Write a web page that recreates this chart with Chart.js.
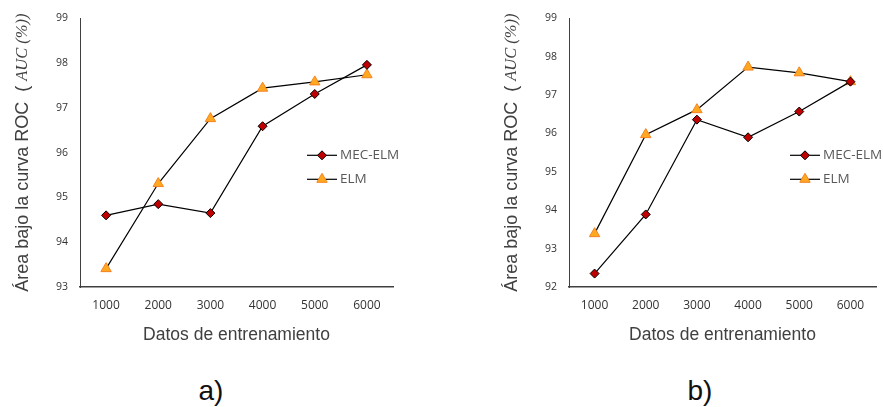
<!DOCTYPE html>
<html>
<head>
<meta charset="utf-8">
<script src="https://cdn.jsdelivr.net/npm/chart.js@4/dist/chart.umd.min.js"></script>
<style>
  body { margin: 0; background: #fff; width: 883px; height: 407px; position: relative; overflow: hidden; }
  .box { position: absolute; top: 0; height: 360px; }
  .lbl { position: absolute; font-family: "Liberation Sans", Arial, sans-serif; font-size: 28px; color: #111; transform: translate(-50%, -50%); }
</style>
</head>
<body>
<div class="box" style="left:0;width:440px"><canvas id="chartA"></canvas></div>
<div class="box" style="left:489px;width:394px"><canvas id="chartB"></canvas></div>
<div class="lbl" style="left:211px;top:391px">a)</div>
<div class="lbl" style="left:700px;top:391px">b)</div>
<script>
// data
var labels = ["1000", "2000", "3000", "4000", "5000", "6000"]
var mecA = [94.6, 94.85, 94.65, 96.59, 97.31, 97.96]
var elmA = [93.41, 95.31, 96.76, 97.44, 97.58, 97.74]
var mecB = [92.35, 93.89, 96.36, 95.9, 96.57, 97.35]
var elmB = [93.39, 95.97, 96.62, 97.73, 97.58, 97.35]
var yMinA = 93, yMinB = 92, yMax = 99

var tickFont = "'Open Sans', sans-serif"

// rotated y title with mixed fonts
var yTitle = {
  id: 'yTitle',
  afterDraw: function(chart) {
    var ctx = chart.ctx
    var p1 = "Área bajo la curva ROC  ( "
    var p2 = "AUC (%))"
    var f1 = "18px 'Liberation Sans', Arial, sans-serif"
    var f2 = "italic 16.5px 'Liberation Serif', 'Times New Roman', serif"
    ctx.save()
    ctx.font = f1
    var w1 = ctx.measureText(p1).width
    ctx.font = f2
    var w2 = ctx.measureText(p2).width
    var cy = (chart.chartArea.top + chart.chartArea.bottom) / 2
    ctx.translate(23, cy)
    ctx.rotate(-Math.PI / 2)
    ctx.fillStyle = '#404040'
    ctx.textBaseline = 'middle'
    ctx.textAlign = 'left'
    var x = -(w1 + w2) / 2
    ctx.font = f1
    ctx.fillText(p1, x, 0)
    ctx.font = f2
    ctx.fillText(p2, x + w1, 0)
    ctx.restore()
  }
}

// legend: line with marker in the middle, inside the plot
var lineLegend = {
  id: 'lineLegend',
  afterDraw: function(chart) {
    var ctx = chart.ctx
    var x0 = chart.chartArea.right - 86
    chart.data.datasets.forEach(function(ds, i) {
      var y = chart.chartArea.top + 137 + i * 24
      ctx.save()
      ctx.strokeStyle = '#000'
      ctx.lineWidth = 1.2
      ctx.beginPath()
      ctx.moveTo(x0, y)
      ctx.lineTo(x0 + 30, y)
      ctx.stroke()
      ctx.fillStyle = ds.pointBackgroundColor
      ctx.strokeStyle = ds.pointBorderColor
      ctx.lineWidth = ds.pointBorderWidth
      Chart.helpers.drawPoint(ctx, { pointStyle: ds.pointStyle, radius: ds.pointRadius, borderWidth: ds.pointBorderWidth }, x0 + 15, y)
      ctx.fillStyle = '#595959'
      ctx.font = "13.5px 'Open Sans', sans-serif"
      ctx.textBaseline = 'middle'
      ctx.fillText(ds.label, x0 + 33, y)
      ctx.restore()
    })
  }
}

function makeChart(id, mec, elm, yMin, padRight) {
  var ctx = document.getElementById(id).getContext('2d')
  return new Chart(ctx, {
    type: 'line',
    data: {
      labels: labels,
      datasets: [
        {
          label: "MEC-ELM",
          data: mec,
          borderColor: "#000",
          borderWidth: 1.2,
          pointStyle: 'rectRot',
          pointRadius: 4.5,
          pointBackgroundColor: "#C00000",
          pointBorderColor: "#000",
          pointBorderWidth: 1
        },
        {
          label: "ELM",
          data: elm,
          borderColor: "#000",
          borderWidth: 1.2,
          pointStyle: 'triangle',
          pointRadius: 6,
          pointBackgroundColor: "#FFA820",
          pointBorderColor: "#F58220",
          pointBorderWidth: 1
        }
      ]
    },
    options: {
      responsive: true,
      maintainAspectRatio: false,
      animation: false,
      layout: { padding: { left: 30, right: padRight, top: 16, bottom: 0 } },
      plugins: { legend: { display: false }, tooltip: { enabled: false } },
      scales: {
        x: {
          offset: true,
          grid: { display: false, drawTicks: false },
          border: { color: '#404040', width: 1.5 },
          ticks: { padding: 11, color: '#333', font: { family: tickFont, size: 12 } },
          title: { display: true, text: 'Datos de entrenamiento', color: '#404040',
                   font: { family: "'Liberation Sans', Arial, sans-serif", size: 17.5 }, padding: { top: 0, bottom: 14 } },
          afterFit: function(s) { s.height = 73 }
        },
        y: {
          min: yMin,
          max: yMax,
          grid: { display: false, drawTicks: false },
          border: { color: '#404040', width: 1 },
          ticks: { stepSize: 1, padding: 12, color: '#333', font: { family: tickFont, size: 10.5 } },
          afterFit: function(s) { s.width = 50 }
        }
      }
    },
    plugins: [yTitle, lineLegend]
  })
}

makeChart('chartA', mecA, elmA, yMinA, 47)
makeChart('chartB', mecB, elmB, yMinB, 0)
</script>
</body>
</html>
